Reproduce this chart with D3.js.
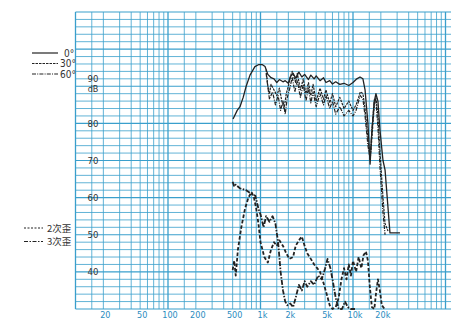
<!DOCTYPE html>
<html>
<head>
<meta charset="utf-8">
<script src="https://cdn.jsdelivr.net/npm/d3@7"></script>
<style>
  body { margin: 0; background: #fff; }
  svg { display: block; }
  .lbl { font-family: "Liberation Sans Narrow", "DejaVu Sans Condensed", sans-serif; }
  .cjk { font-family: "Noto Sans CJK SC", sans-serif; }
</style>
</head>
<body>
<svg id="chart" width="451" height="320"></svg>
<script>
// tick labels
const xTicks = [20, 50, 100, 200, 500, 1000, 2000, 5000, 10000, 20000];
const xTickLabels = ['20', '50', '100', '200', '500', '1k', '2k', '5k', '10k', '20k'];
const yTicks = [40, 50, 60, 70, 80];

// frequency response, [Hz, dB]
const resp0 = [[505,81.2],[560,83.5],[600,84.5],[650,87],[700,90],[770,93],[870,95.3],[950,95.8],[1050,95.8],
  [1120,95.3],[1200,93.2],[1300,92.3],[1400,92],[1500,91],[1600,91.8],[1750,91.2],[1850,91.5],[2000,90.8],
  [2100,92.5],[2250,93.5],[2400,92.2],[2600,93.8],[2800,92.5],[3000,93.2],[3300,91.8],[3500,93],[3800,92],
  [4000,92.8],[4400,91.5],[4800,92.3],[5100,91],[5600,91.5],[6000,90.6],[6500,91.2],[7200,90.5],[8000,90.8],
  [9000,90.2],[10000,91],[11000,92],[11900,92.5],[12800,92],[13500,89],[14500,80],[15300,69],[16000,78],
  [17000,86],[17700,88],[18600,86],[19600,78],[21100,70],[22200,67.5],[25100,50.5],[32200,50.5]];

const resp30 = [[1150,94.5],[1200,90],[1250,88],[1300,90.5],[1400,89],[1500,87.5],[1600,89.5],[1700,86],
  [1800,84],[1900,88],[2000,90],[2100,92.5],[2200,94],[2400,91],[2500,93.5],[2700,89],[2900,92],[3100,88],
  [3300,91],[3500,87.5],[3700,90.5],[4000,86],[4400,89.5],[4800,86.5],[5100,89],[5600,85.5],[6000,88],
  [6500,84.5],[7200,87],[8000,84],[9000,86],[10000,83.5],[10800,85],[11500,87],[12000,88.5],[12800,88],
  [13500,84],[14500,76],[15300,70],[16000,76],[17000,85],[17700,87],[18600,82],[19600,72],[21100,60],
  [22200,53],[23900,51]];

const resp60 = [[1150,93.5],[1250,86.5],[1350,88.5],[1450,85],[1550,87.5],[1650,83.5],[1750,86],[1850,82.5],
  [1950,87],[2100,90],[2200,92.5],[2350,88.5],[2500,91.5],[2700,87],[2900,90.5],[3100,86],[3300,89.5],
  [3500,85.5],[3700,88.5],[4000,84.5],[4400,88],[4800,85],[5100,87.5],[5600,84],[6000,86],[6500,82.5],
  [7200,84.5],[8000,82],[9000,83.5],[10000,82],[10800,83.5],[11500,86],[12000,87.5],[12800,86.5],
  [13500,82],[14500,74],[15300,70.5],[16000,78],[17000,86.5],[17700,86],[18600,79],[19600,68],[21100,56],
  [22200,50]];

// harmonic distortion, [Hz, dB]
const dist2 = [[500,40.5],[520,43],[540,39],[570,46],[620,52],[680,57],[740,60],[800,61.5],[850,60],
  [900,57],[950,53],[1000,48],[1100,44],[1200,42.5],[1300,46],[1400,48],[1500,47],[1600,48.5],[1750,47],
  [1900,45],[2050,43.5],[2250,44],[2400,47],[2600,48.5],[2800,49.5],[3000,47],[3200,45],[3500,43.5],
  [3800,42],[4100,41],[4400,40],[4800,37],[5200,34],[5600,31],[6000,30],[6500,30.5],[7000,33],[7500,38],
  [8000,41],[8500,38],[9000,42],[9500,39],[10000,43],[10800,40],[11500,44],[12300,41],[13000,44.5],
  [13800,45.5],[14500,43],[15200,36],[16000,30.5],[17000,30],[17700,34],[18600,38],[19500,35],[20500,31],
  [22000,30]];

const dist3 = [[500,64.3],[520,63],[540,63.5],[600,62.5],[700,62],[800,61],[880,60.5],[950,57],[1000,55.5],
  [1080,52],[1150,55],[1250,53.5],[1350,55],[1450,53],[1550,48],[1650,40],[1750,35],[1850,32],[1950,31],
  [2100,31.5],[2250,30.5],[2400,33],[2600,36.5],[2800,35],[3000,37.5],[3200,36],[3500,37.5],[3800,36.5],
  [4200,39],[4600,38],[5000,41],[5300,43.5],[5700,41],[6100,37],[6500,33],[7000,30],[7600,30],[8200,32],
  [8800,30.5],[9500,30],[10500,30]];

const svg = d3.select('#chart');
const gridColor = '#3a9fcc';
const inkColor = '#222';

const x = d3.scaleLog().domain([10, 100000]).range([75.5, 445.5]);
const y = d3.scaleLinear().domain([30, 110]).range([309, 12]);
const right = 451;

// grid: 1, 1.5, 2..9 per decade
const vLines = [];
[10, 100, 1000, 10000].forEach(d => {
  [1, 1.5, 2, 3, 4, 5, 6, 7, 8, 9].forEach(m => vLines.push(d * m));
});
vLines.push(100000);

const grid = svg.append('g');
grid.selectAll('line.v')
  .data(vLines)
  .enter()
  .append('line')
  .attr('x1', d => x(d)).attr('x2', d => x(d))
  .attr('y1', y(110)).attr('y2', y(30))
  .attr('stroke', gridColor)
  .attr('stroke-width', d => (Math.log10(d) % 1 === 0 ? 1.3 : 0.8));

grid.selectAll('line.h')
  .data(d3.range(30, 111, 2))
  .enter()
  .append('line')
  .attr('x1', x(10)).attr('x2', right)
  .attr('y1', d => y(d)).attr('y2', d => y(d))
  .attr('stroke', gridColor)
  .attr('stroke-width', d => (d % 10 === 0 ? 1.1 : 0.8));

// axis labels
svg.append('g')
  .selectAll('text')
  .data(xTicks)
  .enter()
  .append('text')
  .attr('class', 'lbl')
  .attr('x', d => x(d) + 2)
  .attr('y', 318)
  .attr('text-anchor', 'middle')
  .attr('font-size', 9)
  .attr('fill', '#2a8cc0')
  .text((d, i) => xTickLabels[i]);

svg.append('g')
  .selectAll('text')
  .data(yTicks)
  .enter()
  .append('text')
  .attr('class', 'lbl')
  .attr('x', 93)
  .attr('y', d => y(d) + 3.5)
  .attr('text-anchor', 'middle')
  .attr('font-size', 9.5)
  .attr('fill', '#333')
  .text(d => d);

svg.append('text').attr('class', 'lbl')
  .attr('x', 93).attr('y', y(90) - 4)
  .attr('text-anchor', 'middle').attr('font-size', 9.5).attr('fill', '#333')
  .text('90');
svg.append('text').attr('class', 'lbl')
  .attr('x', 93).attr('y', y(90) + 6)
  .attr('text-anchor', 'middle').attr('font-size', 9).attr('fill', '#333')
  .text('dB');

// curves
const line = d3.line()
  .x(d => x(d[0]))
  .y(d => y(d[1]));

const series = [
  { data: dist2, dash: '3.5,2', width: 1.8 },
  { data: dist3, dash: '5,1.5,1.5,1.5', width: 1.8 },
  { data: resp60, dash: '4,1.2,1,1.2', width: 1.2 },
  { data: resp30, dash: '2.5,1', width: 1.2 },
  { data: resp0, dash: null, width: 1.3 },
];

svg.append('g')
  .selectAll('path')
  .data(series)
  .enter()
  .append('path')
  .attr('d', d => line(d.data))
  .attr('fill', 'none')
  .attr('stroke', inkColor)
  .attr('stroke-width', d => d.width)
  .attr('stroke-linejoin', 'round')
  .attr('stroke-dasharray', d => d.dash);

// legends
const legTop = [
  { label: '0°', dash: null, y: 53, tx: 64 },
  { label: '30°', dash: '2.5,1', y: 63.5, tx: 60 },
  { label: '60°', dash: '4,1.2,1,1.2', y: 74, tx: 60 },
];
const lg = svg.append('g');
lg.selectAll('line')
  .data(legTop)
  .enter()
  .append('line')
  .attr('x1', 32).attr('x2', 58)
  .attr('y1', d => d.y).attr('y2', d => d.y)
  .attr('stroke', inkColor)
  .attr('stroke-width', 1.2)
  .attr('stroke-dasharray', d => d.dash);
lg.selectAll('text')
  .data(legTop)
  .enter()
  .append('text')
  .attr('class', 'lbl')
  .attr('x', d => d.tx)
  .attr('y', d => d.y + 3.5)
  .attr('font-size', 10)
  .attr('fill', '#333')
  .text(d => d.label);

const legBottom = [
  { label: '2次歪', dash: '2,1.5', y: 228 },
  { label: '3次歪', dash: '4,1.5,1.5,1.5', y: 241.5 },
];
const lb = svg.append('g');
lb.selectAll('line')
  .data(legBottom)
  .enter()
  .append('line')
  .attr('x1', 24).attr('x2', 43)
  .attr('y1', d => d.y).attr('y2', d => d.y)
  .attr('stroke', inkColor)
  .attr('stroke-width', 1.2)
  .attr('stroke-dasharray', d => d.dash);
lb.selectAll('text')
  .data(legBottom)
  .enter()
  .append('text')
  .attr('class', 'cjk')
  .attr('x', 47)
  .attr('y', d => d.y + 3.5)
  .attr('font-size', 9.5)
  .attr('fill', '#333')
  .text(d => d.label);
</script>
</body>
</html>
